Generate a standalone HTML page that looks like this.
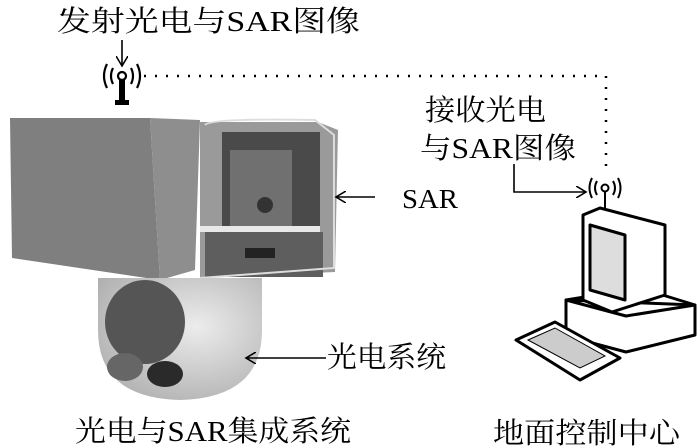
<!DOCTYPE html>
<html><head><meta charset="utf-8"><style>
html,body{margin:0;padding:0;background:#fff;}
svg{display:block;}
text{font-family:"Liberation Serif","Noto Serif CJK SC","Noto Sans CJK SC",serif;fill:#000;}
</style></head><body>
<svg width="700" height="448" viewBox="0 0 700 448" xmlns="http://www.w3.org/2000/svg">
<defs>
<marker id="ah" markerWidth="12" markerHeight="12" refX="10" refY="6" orient="auto" markerUnits="userSpaceOnUse">
<path d="M0,0 L10,6 L0,12" fill="none" stroke="#000" stroke-width="1.6"/></marker>
<radialGradient id="dome" cx="0.6" cy="0.4" r="0.7"><stop offset="0" stop-color="#ececec"/><stop offset="1" stop-color="#b0b0b0"/></radialGradient>
</defs>
<text x="57" y="31" font-size="29" textLength="303" lengthAdjust="spacingAndGlyphs">发射光电与SAR图像</text>
<line x1="122" y1="40" x2="122" y2="66" stroke="#000" stroke-width="1.6" marker-end="url(#ah)"/>
<g stroke="#000" fill="none" stroke-width="2.2">
<circle cx="122" cy="76" r="4"/>
<path d="M113,68 Q109,76 113,84 M131,68 Q135,76 131,84 M107,64 Q101,76 107,88 M137,64 Q143,76 137,88"/>
</g>
<rect x="119" y="80" width="6" height="24" fill="#000"/>
<rect x="115" y="100" width="14" height="5" fill="#000"/>
<path d="M144,76 H606 V172" stroke="#000" stroke-width="2.5" stroke-dasharray="2,9" fill="none"/>
<text x="425" y="120" font-size="29" textLength="121" lengthAdjust="spacingAndGlyphs">接收光电</text>
<text x="420" y="158" font-size="29" textLength="156" lengthAdjust="spacingAndGlyphs">与SAR图像</text>
<path d="M514,164 V192 H586" stroke="#000" stroke-width="1.6" fill="none" marker-end="url(#ah)"/>
<g stroke="#000" fill="none" stroke-width="2">
<circle cx="605" cy="188" r="3.5"/>
<path d="M597,181 Q593,188 597,195 M613,181 Q617,188 613,195 M592,178 Q587,188 592,198 M618,178 Q623,188 618,198"/>
<line x1="605" y1="192" x2="605" y2="210"/>
</g>
<polygon points="10,118 150,118 160,280 12,258" fill="#7f7f7f"/>
<polygon points="150,118 200,120 195,270 160,280" fill="#8e8e8e"/>
<polygon points="200,122 318,122 338,130 335,272 200,278" fill="#9a9a9a"/>
<rect x="222" y="132" width="98" height="100" fill="#4a4a4a"/>
<rect x="230" y="150" width="62" height="80" fill="#707070"/>
<circle cx="265" cy="205" r="8" fill="#333"/>
<rect x="200" y="226" width="120" height="6" fill="#e8e8e8"/>
<rect x="205" y="232" width="118" height="45" fill="#5e5e5e"/>
<rect x="245" y="248" width="30" height="10" fill="#222"/>
<path d="M205,125 Q210,118 315,120 L334,135 L334,268 L200,278" fill="none" stroke="#ddd" stroke-width="2"/>
<path d="M98,278 L262,278 L262,330 Q262,398 180,400 Q98,398 98,330 Z" fill="url(#dome)"/>
<ellipse cx="145" cy="322" rx="40" ry="42" fill="#555"/>
<ellipse cx="125" cy="367" rx="18" ry="14" fill="#666"/>
<ellipse cx="165" cy="374" rx="18" ry="13" fill="#2a2a2a"/>
<line x1="375" y1="197" x2="336" y2="197" stroke="#000" stroke-width="1.6" marker-end="url(#ah)"/>
<text x="402" y="208" font-size="27" textLength="56" lengthAdjust="spacingAndGlyphs">SAR</text>
<line x1="326" y1="358" x2="246" y2="358" stroke="#000" stroke-width="1.6" marker-end="url(#ah)"/>
<text x="327" y="367" font-size="29" textLength="119" lengthAdjust="spacingAndGlyphs">光电系统</text>
<g stroke="#000" stroke-width="3" fill="#fff" stroke-linejoin="round">
<polygon points="566,300 640,288 695,305 695,335 626,352 566,336"/>
<polygon points="566,300 626,316 695,305"/>
<polygon points="583,215 600,208 665,225 665,295 612,312 583,300"/>
<polygon points="590,225 625,235 625,300 590,290" fill="#ddd"/>
<polygon points="516,340 555,322 620,358 580,380"/>
</g>
<g stroke="#000" stroke-width="1" fill="#ccc">
<polygon points="528,340 555,328 605,356 580,368"/>
</g>
<text x="75" y="441" font-size="29" textLength="276" lengthAdjust="spacingAndGlyphs">光电与SAR集成系统</text>
<text x="493" y="443" font-size="29" textLength="187" lengthAdjust="spacingAndGlyphs">地面控制中心</text>
</svg>
</body></html>
